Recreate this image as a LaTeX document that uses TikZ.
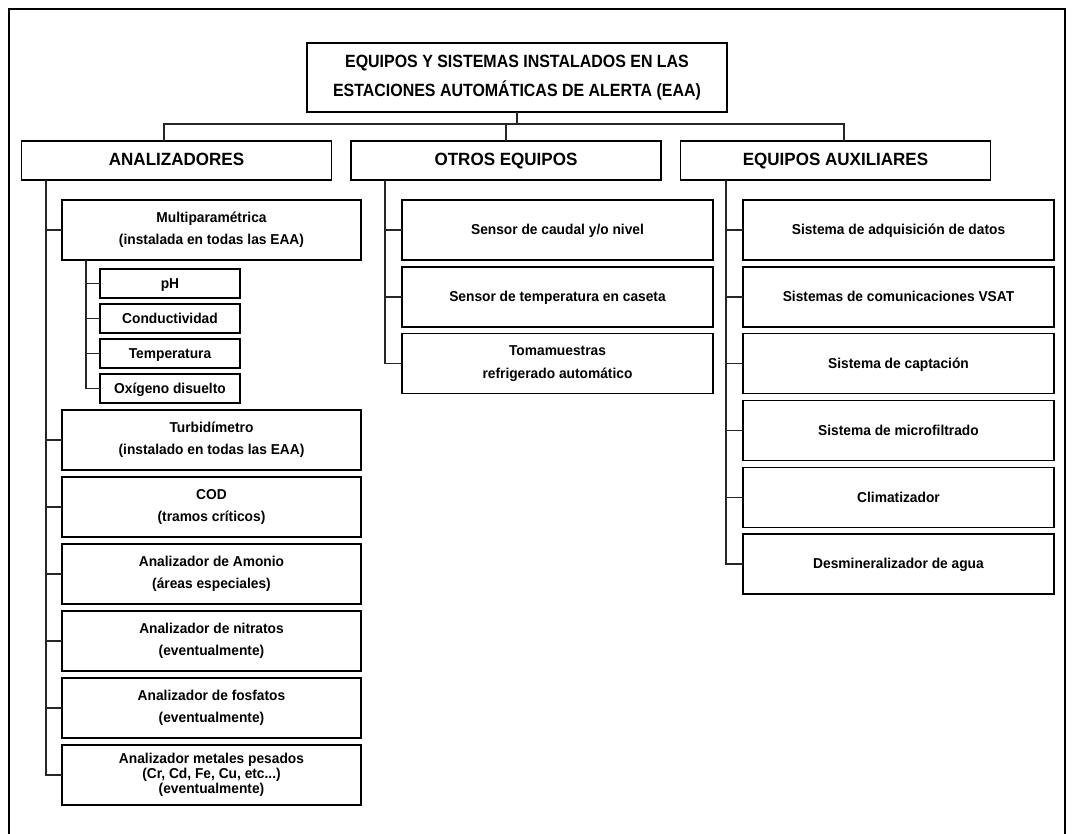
\documentclass[tikz,border=0pt]{standalone}
\usepackage{fontspec}
\setmainfont{Liberation Sans}[FakeStretch=0.96]
\newfontfamily\titlefont{Liberation Sans}[FakeStretch=0.9]

\begin{document}
\begin{tikzpicture}[x=0.75pt, y=-0.75pt,
    box/.style={draw=black, line width=1.1pt, inner sep=2pt, outer sep=0pt, align=center},
    one/.style={text height=0.72em, text depth=0pt},
    head/.style={box, one, minimum width=232.5pt, minimum height=29.25pt, font=\fontsize{13.3}{16}\selectfont\bfseries},
    item/.style={box, minimum width=233.25pt, minimum height=45pt, font=\fontsize{10.75}{16.7}\selectfont\bfseries},
    subitem/.style={box, one, minimum width=105pt, minimum height=22pt, font=\fontsize{10.75}{12}\selectfont\bfseries},
    link/.style={line width=1pt, black!85},
]
\clip (0,0) rectangle (1072,834);

% Outer frame
\draw[line width=1.1pt] (9,845) -- (9,9) -- (1065,9) -- (1065,845);

% Title
\node[box, minimum width=315pt, minimum height=51.75pt, font=\titlefont\fontsize{13.3}{22}\selectfont\bfseries] (title) at (517,77.5)
  {EQUIPOS Y SISTEMAS INSTALADOS EN LAS\\ESTACIONES AUTOMÁTICAS DE ALERTA (EAA)};

% Main groups
\node[head] (ana) at (176.5,160.5) {ANALIZADORES};
\node[head] (otros) at (506,160.5) {OTROS EQUIPOS};
\node[head] (aux) at (835.5,160.5) {EQUIPOS AUXILIARES};

% Analizadores
\node[item, minimum width=224.25pt] (multi) at (211.5,230) {Multiparamétrica\\(instalada en todas las EAA)};
\node[subitem] (ph) at (170,283.5) {pH};
\node[subitem] (cond) at (170,318.5) {Conductividad};
\node[subitem] (temp) at (170,353.5) {Temperatura};
\node[subitem] (oxi) at (170,388.5) {Oxígeno disuelto};
\node[item, minimum width=224.25pt] (turb) at (211.5,440) {Turbidímetro\\(instalado en todas las EAA)};
\node[item, minimum width=224.25pt] (cod) at (211.5,507) {COD\\(tramos críticos)};
\node[item, minimum width=224.25pt] (amon) at (211.5,574) {Analizador de Amonio\\(áreas especiales)};
\node[item, minimum width=224.25pt] (nitr) at (211.5,641) {Analizador de nitratos\\(eventualmente)};
\node[item, minimum width=224.25pt] (fosf) at (211.5,708) {Analizador de fosfatos\\(eventualmente)};
\node[item, minimum width=224.25pt, font=\fontsize{10.75}{11.2}\selectfont\bfseries] (metal) at (211.5,775)
  {Analizador metales pesados\\(Cr, Cd, Fe, Cu, etc...)\\(eventualmente)};

% Otros equipos
\node[item, one] (caudal) at (557.5,230) {Sensor de caudal y/o nivel};
\node[item, one] (caseta) at (557.5,297) {Sensor de temperatura en caseta};
\node[item] (toma) at (557.5,363.5) {Tomamuestras\\refrigerado automático};

% Equipos auxiliares
\node[item, one] (adq) at (898.5,230) {Sistema de adquisición de datos};
\node[item, one] (vsat) at (898.5,297) {Sistemas de comunicaciones VSAT};
\node[item, one] (capt) at (898.5,363.5) {Sistema de captación};
\node[item, one] (micro) at (898.5,430.5) {Sistema de microfiltrado};
\node[item, one] (clima) at (898.5,497.5) {Climatizador};
\node[item, one] (desmin) at (898.5,564) {Desmineralizador de agua};

% Tree from the title
\coordinate (busL) at (164,124);
\coordinate (busR) at (844,124);
\draw[link] (title.south) -- (title.south |- busL);
\draw[link] (busL |- ana.north) -- (busL) -- (busR) -- (busR |- aux.north);
\draw[link] (otros.north) -- (otros.north |- busL);

% Spines
\coordinate (sA) at (46,0);
\coordinate (sM) at (86,0);
\coordinate (sO) at (385,0);
\coordinate (sX) at (726,0);
\draw[link] (sA |- ana.south) -- (sA |- metal.west) -- (metal.west);
\foreach \n in {multi,turb,cod,amon,nitr,fosf}
  \draw[link] (sA |- \n.west) -- (\n.west);
\draw[link] (sM |- multi.south) -- (sM |- oxi.west) -- (oxi.west);
\foreach \n in {ph,cond,temp}
  \draw[link] (sM |- \n.west) -- (\n.west);
\draw[link] (sO |- otros.south) -- (sO |- toma.west) -- (toma.west);
\foreach \n in {caudal,caseta}
  \draw[link] (sO |- \n.west) -- (\n.west);
\draw[link] (sX |- aux.south) -- (sX |- desmin.west) -- (desmin.west);
\foreach \n in {adq,vsat,capt,micro,clima}
  \draw[link] (sX |- \n.west) -- (\n.west);

\end{tikzpicture}
\end{document}
